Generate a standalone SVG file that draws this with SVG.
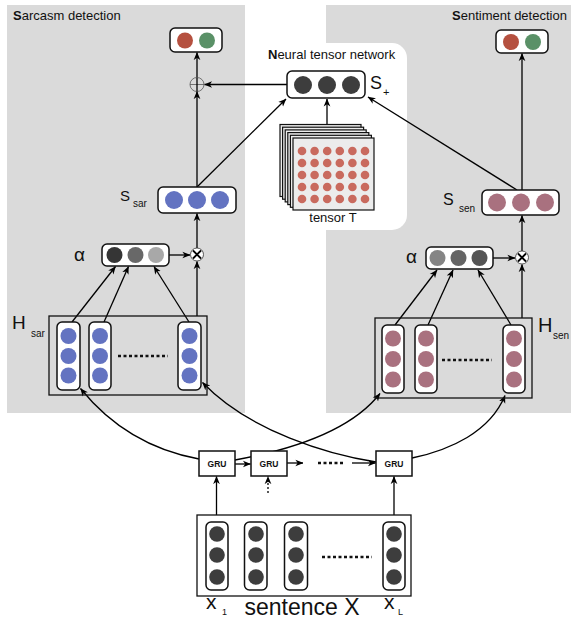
<svg xmlns="http://www.w3.org/2000/svg" width="571" height="637" viewBox="0 0 571 637">
<defs>
<style>
text{font-family:"Liberation Sans",Arial,sans-serif;fill:#111}
.panel{fill:#dadada}
.box{fill:#fff;stroke:#111;stroke-width:1.5}
.ln{stroke:#000;stroke-width:1.3;fill:none}
.blue{fill:#6373c1}
.mauve{fill:#a9717f}
.dark{fill:#3d3d3d}
.red{fill:#b5503f}
.green{fill:#5a9167}
.dot{fill:#c96a5e}
.page{fill:#ececec;stroke:#111;stroke-width:1.2}
.gru{fill:#fff;stroke:#111;stroke-width:1.5}
.gt{font-size:8.5px;font-weight:bold;text-anchor:middle}
.dots{stroke:#111;stroke-width:2.5;stroke-dasharray:3,2.5;fill:none}
</style>
<marker id="ar" viewBox="0 0 10 10" refX="9.5" refY="5" markerWidth="8" markerHeight="8" markerUnits="userSpaceOnUse" orient="auto">
<path d="M0,0.8 L10,5 L0,9.2 L2.8,5 z" fill="#000"/>
</marker>
</defs>

<g id="panels">
<rect class="panel" x="7" y="5" width="238" height="408"/>
<rect class="panel" x="326" y="5" width="245" height="408"/>
<rect x="290" y="43" width="117" height="187" rx="15" fill="#fff"/>
<text x="13" y="20" font-size="13"><tspan font-weight="bold">S</tspan>arcasm detection</text>
<text x="452" y="20" font-size="13"><tspan font-weight="bold">S</tspan>entiment detection</text>
<text x="268" y="59" font-size="13"><tspan font-weight="bold">N</tspan>eural tensor network</text>
</g>

<g id="connectors">
<line class="ln" x1="197" y1="187" x2="197" y2="91.5" marker-end="url(#ar)"/>
<line class="ln" x1="197" y1="77" x2="197" y2="52.5" marker-end="url(#ar)"/>
<line class="ln" x1="287" y1="84.5" x2="204.5" y2="84.5" marker-end="url(#ar)"/>
<line class="ln" x1="197" y1="187" x2="286" y2="99" marker-end="url(#ar)"/>
<line class="ln" x1="327" y1="125" x2="327" y2="99" marker-end="url(#ar)"/>
<line class="ln" x1="517" y1="190" x2="368" y2="97" marker-end="url(#ar)"/>
<line class="ln" x1="522" y1="190" x2="522" y2="53.5" marker-end="url(#ar)"/>
<line class="ln" x1="169" y1="255" x2="190" y2="255" marker-end="url(#ar)"/>
<line class="ln" x1="197" y1="248" x2="197" y2="213.5" marker-end="url(#ar)"/>
<line class="ln" x1="197" y1="316" x2="197" y2="261.5" marker-end="url(#ar)"/>
<line class="ln" x1="72" y1="322" x2="115.5" y2="266.5" marker-end="url(#ar)"/>
<line class="ln" x1="104" y1="322" x2="128.5" y2="266.5" marker-end="url(#ar)"/>
<line class="ln" x1="189" y1="322" x2="154" y2="266.5" marker-end="url(#ar)"/>
<line class="ln" x1="493" y1="258" x2="515" y2="258" marker-end="url(#ar)"/>
<line class="ln" x1="522" y1="251" x2="522" y2="215.5" marker-end="url(#ar)"/>
<line class="ln" x1="522" y1="318" x2="522" y2="264.5" marker-end="url(#ar)"/>
<line class="ln" x1="395" y1="325" x2="437" y2="270" marker-end="url(#ar)"/>
<line class="ln" x1="428" y1="325" x2="453" y2="270" marker-end="url(#ar)"/>
<line class="ln" x1="511" y1="325" x2="478" y2="270" marker-end="url(#ar)"/>
<path class="ln" d="M199,459 C150,450 110,425 80.5,388.5" marker-end="url(#ar)"/>
<path class="ln" d="M376,462 C330,455 250,432 202.5,382.5" marker-end="url(#ar)"/>
<path class="ln" d="M235,460 C290,450 350,432 380,393.5" marker-end="url(#ar)"/>
<path class="ln" d="M412,458 C450,450 490,432 505,395.5" marker-end="url(#ar)"/>
<line class="ln" x1="235" y1="464" x2="250.5" y2="464" marker-end="url(#ar)"/>
<line class="ln" x1="287" y1="463" x2="303" y2="463" marker-end="url(#ar)"/>
<line class="dots" x1="318" y1="463" x2="344" y2="463"/>
<line class="ln" x1="352" y1="463" x2="375.5" y2="463" marker-end="url(#ar)"/>
<line class="ln" x1="268" y1="493" x2="268" y2="476.5" stroke-dasharray="2,2" marker-end="url(#ar)"/>
<line class="ln" x1="216.5" y1="522" x2="216.5" y2="476.5" marker-end="url(#ar)"/>
<line class="ln" x1="394" y1="522" x2="394" y2="476.5" marker-end="url(#ar)"/>
</g>

<g id="out-sar">
<rect class="box" x="170" y="28" width="52" height="24" rx="5"/>
<circle class="red" cx="185" cy="40.5" r="8"/>
<circle class="green" cx="207" cy="40.5" r="8"/>
</g>

<g id="out-sen">
<rect class="box" x="496" y="30" width="52" height="23" rx="5"/>
<circle class="red" cx="511" cy="42" r="8"/>
<circle class="green" cx="533" cy="42" r="8"/>
</g>

<g id="oplus">
<circle cx="197" cy="84.5" r="7" fill="none" stroke="#555" stroke-width="0.8"/>
<line x1="190" y1="84.5" x2="204" y2="84.5" stroke="#555" stroke-width="0.8"/>
<line x1="197" y1="77.5" x2="197" y2="91.5" stroke="#000" stroke-width="1.3"/>
</g>

<g id="s-plus">
<rect class="box" x="287" y="71" width="78" height="27" rx="5"/>
<circle class="dark" cx="303" cy="85" r="9"/>
<circle class="dark" cx="327" cy="85" r="9"/>
<circle class="dark" cx="351" cy="85" r="9"/>
<text x="370" y="89" font-size="18">S</text>
<text x="383" y="96" font-size="11">+</text>
</g>

<g id="tensor">
<rect class="page" x="280" y="124.5" width="81" height="72"/>
<rect class="page" x="282.6" y="127.2" width="81" height="72"/>
<rect class="page" x="285.2" y="129.9" width="81" height="72"/>
<rect class="page" x="287.8" y="132.6" width="81" height="72"/>
<rect class="page" x="290.4" y="135.3" width="81" height="72"/>
<rect class="page" x="293" y="138" width="81" height="72"/>
<g class="dot">
<circle cx="302" cy="151" r="4.3"/><circle cx="314.6" cy="151" r="4.3"/><circle cx="327.2" cy="151" r="4.3"/><circle cx="339.8" cy="151" r="4.3"/><circle cx="352.4" cy="151" r="4.3"/><circle cx="365" cy="151" r="4.3"/>
<circle cx="302" cy="163" r="4.3"/><circle cx="314.6" cy="163" r="4.3"/><circle cx="327.2" cy="163" r="4.3"/><circle cx="339.8" cy="163" r="4.3"/><circle cx="352.4" cy="163" r="4.3"/><circle cx="365" cy="163" r="4.3"/>
<circle cx="302" cy="175" r="4.3"/><circle cx="314.6" cy="175" r="4.3"/><circle cx="327.2" cy="175" r="4.3"/><circle cx="339.8" cy="175" r="4.3"/><circle cx="352.4" cy="175" r="4.3"/><circle cx="365" cy="175" r="4.3"/>
<circle cx="302" cy="187" r="4.3"/><circle cx="314.6" cy="187" r="4.3"/><circle cx="327.2" cy="187" r="4.3"/><circle cx="339.8" cy="187" r="4.3"/><circle cx="352.4" cy="187" r="4.3"/><circle cx="365" cy="187" r="4.3"/>
<circle cx="302" cy="199" r="4.3"/><circle cx="314.6" cy="199" r="4.3"/><circle cx="327.2" cy="199" r="4.3"/><circle cx="339.8" cy="199" r="4.3"/><circle cx="352.4" cy="199" r="4.3"/><circle cx="365" cy="199" r="4.3"/>
</g>
<text x="333" y="222" font-size="13" text-anchor="middle">tensor T</text>
</g>

<g id="s-sar">
<rect class="box" x="158" y="187" width="78" height="26" rx="5"/>
<circle class="blue" cx="174" cy="200" r="9"/>
<circle class="blue" cx="197" cy="200" r="9"/>
<circle class="blue" cx="220" cy="200" r="9"/>
<text x="120" y="201" font-size="15">S</text>
<text x="133" y="207" font-size="10">sar</text>
</g>

<g id="s-sen">
<rect class="box" x="482" y="190" width="77" height="25" rx="5"/>
<circle class="mauve" cx="497" cy="202.5" r="9"/>
<circle class="mauve" cx="521" cy="202.5" r="9"/>
<circle class="mauve" cx="545" cy="202.5" r="9"/>
<text x="443" y="205" font-size="16">S</text>
<text x="459" y="212" font-size="10">sen</text>
</g>

<g id="alpha-sar">
<rect class="box" x="102" y="244" width="67" height="22" rx="5"/>
<circle cx="114.5" cy="255" r="8" fill="#353535"/>
<circle cx="135.5" cy="255" r="8" fill="#686868"/>
<circle cx="156" cy="255" r="8" fill="#a8a8a8"/>
<text x="74" y="261" font-size="19" font-family="Liberation Serif,serif">α</text>
</g>

<g id="alpha-sen">
<rect class="box" x="426" y="247" width="67" height="22" rx="5"/>
<circle cx="437.5" cy="258" r="8" fill="#858585"/>
<circle cx="458.5" cy="258" r="8" fill="#656565"/>
<circle cx="479.5" cy="258" r="8" fill="#555"/>
<text x="406" y="263" font-size="19" font-family="Liberation Serif,serif">α</text>
</g>

<g id="otimes-sar">
<circle cx="197" cy="254.5" r="6.5" fill="#fff" stroke="#333" stroke-width="0.8"/>
<path d="M193,250.5 L201,258.5 M201,250.5 L193,258.5" stroke="#000" stroke-width="1.8"/>
</g>

<g id="otimes-sen">
<circle cx="522" cy="257.5" r="6.5" fill="#fff" stroke="#333" stroke-width="0.8"/>
<path d="M518,253.5 L526,261.5 M526,253.5 L518,261.5" stroke="#000" stroke-width="1.8"/>
</g>

<g id="h-sar">
<rect x="49" y="316" width="158" height="79" fill="none" stroke="#111" stroke-width="1.3"/>
<rect class="box" x="57" y="322" width="23" height="68" rx="5"/>
<rect class="box" x="89" y="322" width="22" height="68" rx="5"/>
<rect class="box" x="178" y="322" width="23" height="68" rx="5"/>
<circle class="blue" cx="68.5" cy="336" r="8"/><circle class="blue" cx="68.5" cy="356" r="8"/><circle class="blue" cx="68.5" cy="375.5" r="8"/>
<circle class="blue" cx="100" cy="336" r="8"/><circle class="blue" cx="100" cy="356" r="8"/><circle class="blue" cx="100" cy="375.5" r="8"/>
<circle class="blue" cx="189.5" cy="336" r="8"/><circle class="blue" cx="189.5" cy="356" r="8"/><circle class="blue" cx="189.5" cy="375.5" r="8"/>
<line class="dots" x1="118" y1="356" x2="168" y2="356" stroke-width="2.2"/>
<text x="12" y="329" font-size="19">H</text>
<text x="31" y="337" font-size="10">sar</text>
</g>

<g id="h-sen">
<rect x="375" y="318" width="157" height="80" fill="none" stroke="#111" stroke-width="1.3"/>
<rect class="box" x="382" y="325" width="22" height="68" rx="5"/>
<rect class="box" x="415" y="325" width="22" height="68" rx="5"/>
<rect class="box" x="503" y="325" width="22" height="68" rx="5"/>
<circle class="mauve" cx="393" cy="338.5" r="8"/><circle class="mauve" cx="393" cy="359" r="8"/><circle class="mauve" cx="393" cy="379.5" r="8"/>
<circle class="mauve" cx="426" cy="338.5" r="8"/><circle class="mauve" cx="426" cy="359" r="8"/><circle class="mauve" cx="426" cy="379.5" r="8"/>
<circle class="mauve" cx="514" cy="338.5" r="8"/><circle class="mauve" cx="514" cy="359" r="8"/><circle class="mauve" cx="514" cy="379.5" r="8"/>
<line class="dots" x1="442" y1="360" x2="492" y2="360" stroke-width="2.2"/>
<text x="538" y="332" font-size="20">H</text>
<text x="553" y="339" font-size="10">sen</text>
</g>

<g id="gru1">
<rect class="gru" x="199" y="451" width="36" height="25"/>
<text class="gt" x="217" y="466.5">GRU</text>
</g>
<g id="gru2">
<rect class="gru" x="251" y="451" width="36" height="25"/>
<text class="gt" x="269" y="466.5">GRU</text>
</g>
<g id="gru3">
<rect class="gru" x="376" y="451" width="36" height="25"/>
<text class="gt" x="394" y="466.5">GRU</text>
</g>

<g id="sentence">
<rect x="197" y="515" width="214" height="81" fill="#fff" stroke="#111" stroke-width="1.3"/>
<rect class="box" x="206" y="522" width="22" height="68" rx="5"/>
<rect class="box" x="244.5" y="522" width="22.5" height="68" rx="5"/>
<rect class="box" x="284.5" y="522" width="23" height="68" rx="5"/>
<rect class="box" x="383" y="522" width="22" height="68" rx="5"/>
<circle class="dark" cx="217" cy="534" r="7.8"/><circle class="dark" cx="217" cy="555" r="7.8"/><circle class="dark" cx="217" cy="577" r="7.8"/>
<circle class="dark" cx="256" cy="534" r="7.8"/><circle class="dark" cx="256" cy="555" r="7.8"/><circle class="dark" cx="256" cy="577" r="7.8"/>
<circle class="dark" cx="296" cy="534" r="7.8"/><circle class="dark" cx="296" cy="555" r="7.8"/><circle class="dark" cx="296" cy="577" r="7.8"/>
<circle class="dark" cx="394" cy="534" r="7.8"/><circle class="dark" cx="394" cy="555" r="7.8"/><circle class="dark" cx="394" cy="577" r="7.8"/>
<line class="dots" x1="322" y1="557" x2="372" y2="557" stroke-width="2.2"/>
<text x="206" y="609" font-size="21">x</text>
<text x="222" y="615" font-size="9">1</text>
<text x="384" y="609" font-size="21">x</text>
<text x="398" y="615" font-size="9">L</text>
<text x="302" y="615" font-size="23" text-anchor="middle">sentence X</text>
</g>
</svg>
